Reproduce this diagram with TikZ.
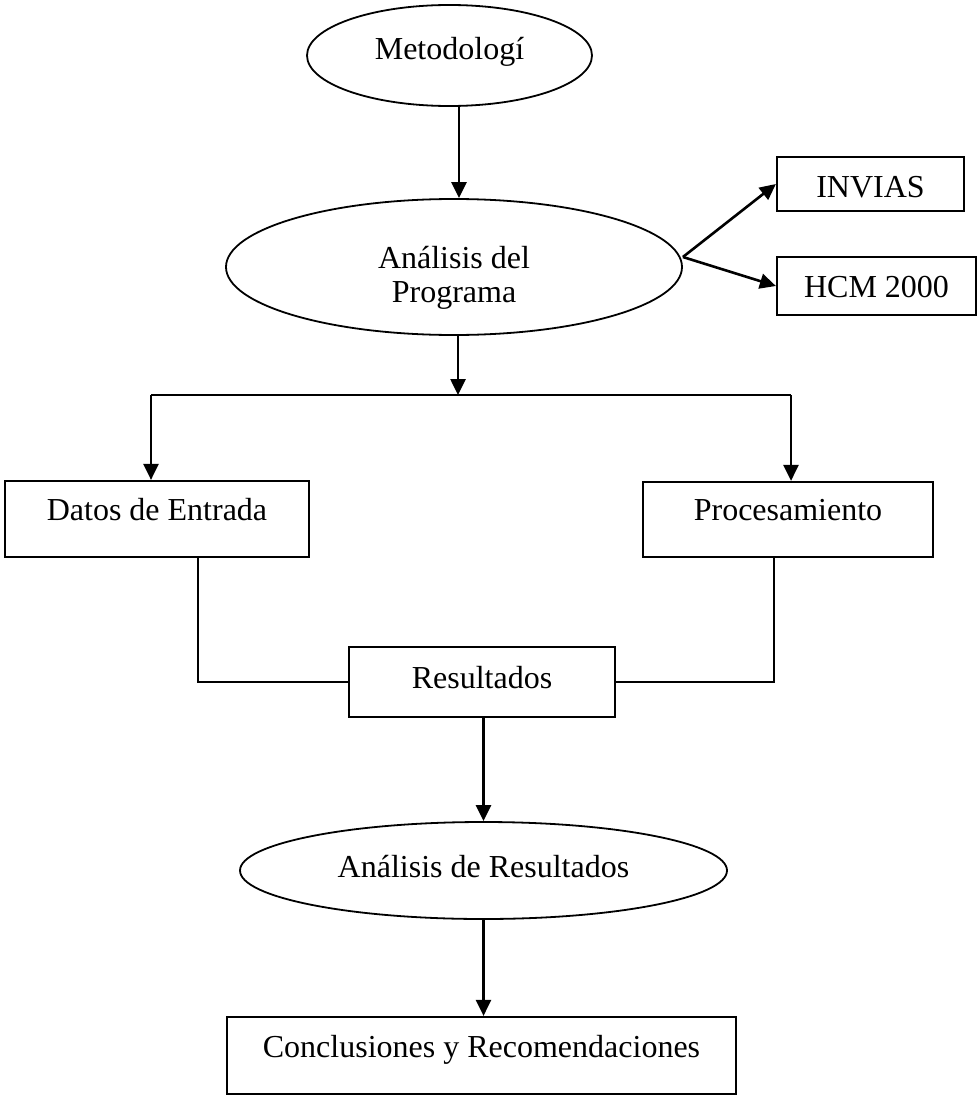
\documentclass[tikz,border=0pt]{standalone}
\usepackage{fontspec}
\setmainfont{Liberation Serif}
\usetikzlibrary{shapes.geometric,arrows.meta,calc}
\begin{document}
\begin{tikzpicture}[x=1pt,y=-1pt,
  every node/.style={font=\fontsize{32}{34}\selectfont},
  boxnode/.style={draw, line width=2.2pt, rectangle, inner sep=0pt},
  ellnode/.style={draw, line width=1.8pt, ellipse, inner sep=0pt},
  arr/.style={line width=2.6pt, -{Triangle[length=16pt,width=15pt]}},
  conn/.style={line width=2pt},
  branch/.style={line width=2.6pt}]
\useasboundingbox (0,0) rectangle (977,1097);

\node[ellnode, minimum width=285pt, minimum height=101pt, text height=22pt, text depth=13pt] (met) at (449.5,55.5) {Metodologí};
\node[ellnode, minimum width=456pt, minimum height=136pt, align=center, text height=80pt, text depth=10pt] (ana) at (454,267) {Análisis del\\Programa};
\node[boxnode, minimum width=187pt, text height=40pt, text depth=14pt] (inv) at (870.5,184) {INVIAS};
\node[boxnode, minimum width=199pt, text height=40pt, text depth=18pt] (hcm) at (876.5,286) {HCM 2000};
\node[boxnode, minimum width=304pt, text height=39pt, text depth=37pt] (dat) at (157,519) {Datos de Entrada};
\node[boxnode, minimum width=290pt, text height=38pt, text depth=37pt] (proc) at (788,519.5) {Procesamiento};
\node[boxnode, minimum width=266pt, text height=41pt, text depth=29pt] (res) at (482,682) {Resultados};
\node[ellnode, minimum width=487pt, minimum height=97pt, text height=22pt, text depth=9pt] (ar) at (483.5,870.5) {Análisis de Resultados};
\node[boxnode, minimum width=509pt, text height=40pt, text depth=37pt] (conc) at (481.5,1055.5) {Conclusiones y Recomendaciones};

\coordinate (bl) at (151,395);
\coordinate (bm) at (458,395);
\coordinate (brr) at (791,395);

\draw[arr] ([xshift=9.5pt]met.south) -- ([xshift=5pt]ana.north);
\draw[arr] ([xshift=4pt]ana.south) -- (bm);
\draw[branch] (bl) -- (brr);
\draw[arr] (bl) -- (bl |- dat.north);
\draw[arr] (brr) -- (brr |- proc.north);
\draw[arr] ([yshift=10pt]ana.east) -- (inv.west);
\draw[arr] ([yshift=10pt]ana.east) -- (hcm.west);
\draw[conn] ([xshift=41pt]dat.south) |- (res.west);
\draw[conn] ([xshift=-14pt]proc.south) |- (res.east);
\draw[arr] (ar.north |- res.south) -- (ar.north);
\draw[arr] (ar.south) -- (ar.south |- conc.north);
\end{tikzpicture}
\end{document}
